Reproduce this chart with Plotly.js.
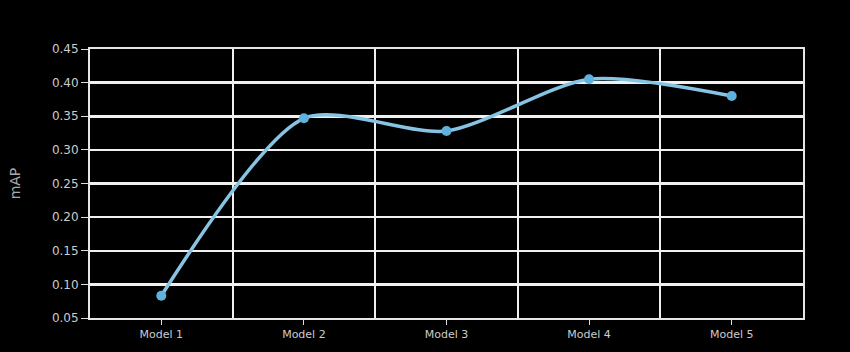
<!DOCTYPE html>
<html>
<head>
<meta charset="utf-8">
<script src="https://cdn.plot.ly/plotly-3.0.1.min.js"></script>
<style>html,body{margin:0;padding:0;background:#000;}</style>
</head>
<body>
<div id="chart" style="width:850px;height:352px;"></div>
<script>
const categories = ["Model 1", "Model 2", "Model 3", "Model 4", "Model 5"];
const mapValues = [0.083, 0.347, 0.328, 0.405, 0.380];
const yTicks = [0.05, 0.10, 0.15, 0.20, 0.25, 0.30, 0.35, 0.40, 0.45];

const xIdx = categories.map((_, i) => i);
const bounds = [];
for (let i = 0; i <= categories.length; i++) bounds.push(i - 0.5);

const trace = {
  x: xIdx,
  y: mapValues,
  type: 'scatter',
  mode: 'lines+markers',
  line: {shape: 'spline', smoothing: 0.75, color: '#87c4e4', width: 3.5},
  marker: {size: 10, color: '#5fb2de', line: {width: 0}},
  hoverinfo: 'x+y'
};

const layout = {
  width: 850, height: 352,
  paper_bgcolor: '#000', plot_bgcolor: '#000',
  margin: {l: 90, r: 47, t: 49, b: 34},
  showlegend: false,
  font: {family: 'DejaVu Sans, sans-serif', color: '#cccccc', size: 11},
  xaxis: {
    range: [-0.5, 4.5],
    tickmode: 'array', tickvals: xIdx, ticktext: categories,
    showgrid: false, zeroline: false,
    ticks: 'outside', ticklen: 5, tickcolor: '#dddddd', tickwidth: 1,
    showline: true, linecolor: '#e6e6e6', linewidth: 2, mirror: true,
    minor: {tickmode: 'array', tickvals: bounds, showgrid: true, gridcolor: '#f0f0f0', gridwidth: 2, ticks: ''},
    tickfont: {size: 11, color: '#cccccc'}
  },
  yaxis: {
    range: [0.05, 0.45],
    tickmode: 'array', tickvals: yTicks, ticktext: yTicks.map(v => v.toFixed(2)),
    showgrid: true, gridcolor: '#f0f0f0', gridwidth: 2.5, zeroline: false,
    ticks: 'outside', ticklen: 7, tickcolor: '#dddddd', tickwidth: 1,
    showline: true, linecolor: '#e6e6e6', linewidth: 2, mirror: true,
    title: {text: 'mAP', font: {size: 14, color: '#aaaaaa'}, standoff: 28},
    tickfont: {size: 12, color: '#cccccc'}
  }
};

Plotly.newPlot('chart', [trace], layout, {displayModeBar: false, staticPlot: true});
</script>
</body>
</html>
